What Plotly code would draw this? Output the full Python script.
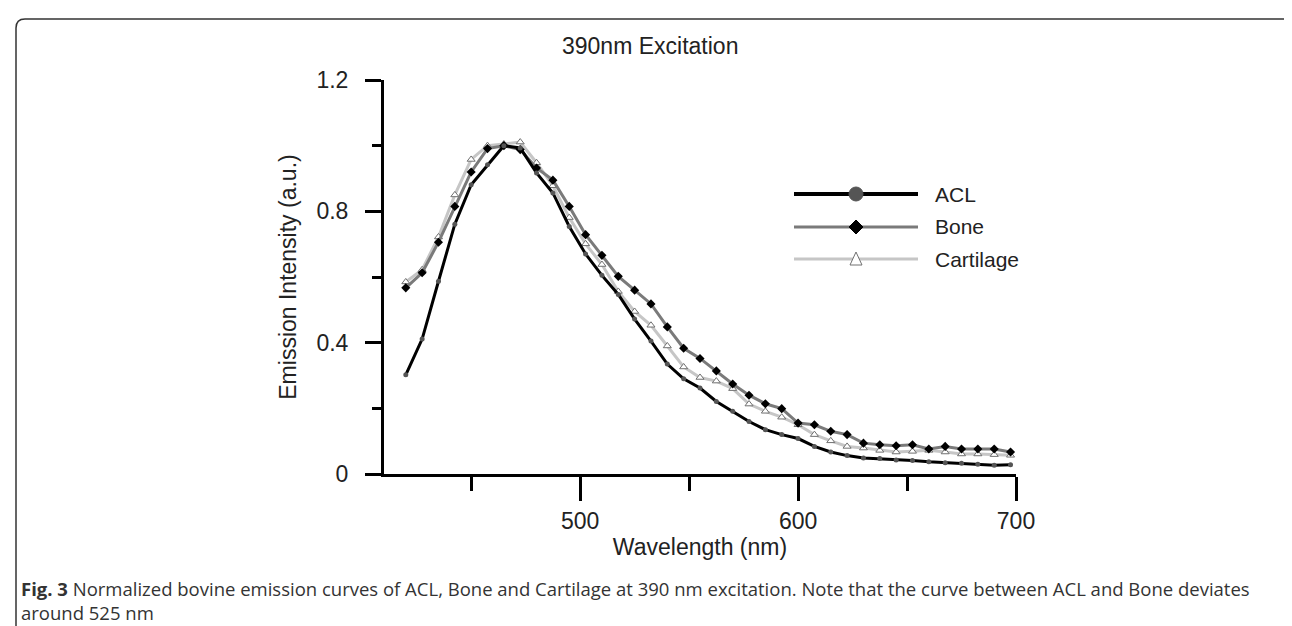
import plotly.graph_objects as go

# emission spectra, marker every 7.5 nm
wavelength = [420, 427.5, 435, 442.5, 450, 457.5, 465, 472.5, 480, 487.5,
              495, 502.5, 510, 517.5, 525, 532.5, 540, 547.5, 555, 562.5,
              570, 577.5, 585, 592.5, 600, 607.5, 615, 622.5, 630, 637.5,
              645, 652.5, 660, 667.5, 675, 682.5, 690, 697.5]

acl = [0.302, 0.411, 0.587, 0.761, 0.881, 0.942, 1.000, 0.993, 0.917, 0.856,
       0.754, 0.670, 0.605, 0.547, 0.472, 0.405, 0.335, 0.290, 0.262, 0.221,
       0.191, 0.160, 0.135, 0.120, 0.108, 0.084, 0.067, 0.056, 0.049, 0.047,
       0.043, 0.041, 0.037, 0.034, 0.033, 0.030, 0.027, 0.028]

bone = [0.567, 0.613, 0.706, 0.815, 0.920, 0.991, 1.000, 0.988, 0.932, 0.895,
        0.815, 0.729, 0.666, 0.602, 0.560, 0.518, 0.448, 0.383, 0.352, 0.314,
        0.274, 0.240, 0.214, 0.199, 0.155, 0.150, 0.130, 0.120, 0.094, 0.089,
        0.086, 0.089, 0.076, 0.084, 0.076, 0.076, 0.076, 0.067]

cartilage = [0.585, 0.622, 0.722, 0.850, 0.958, 1.000, 1.005, 1.011, 0.948, 0.878,
             0.781, 0.701, 0.638, 0.556, 0.495, 0.453, 0.390, 0.326, 0.294, 0.283,
             0.260, 0.213, 0.191, 0.173, 0.150, 0.120, 0.101, 0.084, 0.079, 0.072,
             0.067, 0.069, 0.072, 0.067, 0.061, 0.061, 0.059, 0.057]

names = ["ACL", "Bone", "Cartilage"]

W, H = 1292, 626
L, R, T, B = 376, 1008, 72, 466   # plot box in pixels

FONT = "Liberation Sans, Arial, sans-serif"


def px(x):
    return (x - L) / (R - L)


def py(y):
    return (B - y) / (B - T)


fig = go.Figure()

fig.add_trace(go.Scatter(
    x=wavelength, y=cartilage, name=names[2], mode="lines+markers",
    line=dict(color="#c6c6c6", width=3),
    marker=dict(symbol="triangle-up", size=7, color="white",
                line=dict(color="#707070", width=1))))
fig.add_trace(go.Scatter(
    x=wavelength, y=bone, name=names[1], mode="lines+markers",
    line=dict(color="#7a7a7a", width=3),
    marker=dict(symbol="diamond", size=7, color="black")))
fig.add_trace(go.Scatter(
    x=wavelength, y=acl, name=names[0], mode="lines+markers",
    line=dict(color="black", width=3),
    marker=dict(symbol="circle", size=5, color="#555555")))

# hand-drawn legend with long sample lines like the original
shapes = []
rows = [186, 219, 251]
styles = [("black", 4), ("#7a7a7a", 3), ("#c6c6c6", 3)]
for yy, (col, w) in zip(rows, styles):
    shapes.append(dict(type="line", xref="paper", yref="paper",
                       x0=px(786), x1=px(910), y0=py(yy), y1=py(yy),
                       line=dict(color=col, width=w)))
cx = 848
shapes.append(dict(type="circle", xref="paper", yref="paper",
                   x0=px(cx - 7), x1=px(cx + 7), y0=py(rows[0] - 7), y1=py(rows[0] + 7),
                   fillcolor="#555555", line=dict(color="#555555", width=1)))
d = 7
shapes.append(dict(type="path", xref="paper", yref="paper",
                   path=f"M {px(cx)} {py(rows[1] - d)} L {px(cx + d)} {py(rows[1])} "
                        f"L {px(cx)} {py(rows[1] + d)} L {px(cx - d)} {py(rows[1])} Z",
                   fillcolor="black", line=dict(color="black", width=1)))
t = 6
shapes.append(dict(type="path", xref="paper", yref="paper",
                   path=f"M {px(cx)} {py(rows[2] - t - 1)} L {px(cx + t)} {py(rows[2] + t)} "
                        f"L {px(cx - t)} {py(rows[2] + t)} Z",
                   fillcolor="white", line=dict(color="#707070", width=1)))

# outer frame of the figure panel, open at the bottom
r = 9
fx0, fx1, fy0, fy1 = 8, 1289, 11, 640
shapes.append(dict(
    type="path", xref="paper", yref="paper", layer="above",
    path=(f"M {px(fx0)} {py(fy1)} L {px(fx0)} {py(fy0 + r)} "
          f"Q {px(fx0)} {py(fy0)} {px(fx0 + r)} {py(fy0)} "
          f"L {px(fx1 - r)} {py(fy0)} "
          f"Q {px(fx1)} {py(fy0)} {px(fx1)} {py(fy0 + r)} "
          f"L {px(fx1)} {py(fy1)}"),
    line=dict(color="#333333", width=1.5)))

annotations = []
for yy, name in zip(rows, names):
    annotations.append(dict(xref="paper", yref="paper", x=px(925), y=py(yy),
                            text=name, showarrow=False, xanchor="left", yanchor="middle",
                            font=dict(family=FONT, size=21, color="#222222")))

annotations.append(dict(xref="paper", yref="paper", x=px(642), y=py(38),
                        text="390nm Excitation", showarrow=False,
                        xanchor="center", yanchor="middle",
                        font=dict(family=FONT, size=23, color="#222222")))

annotations.append(dict(
    xref="paper", yref="paper", x=px(11), y=py(566), xanchor="left", yanchor="top",
    align="left", showarrow=False,
    text=("<b>Fig. 3</b> Normalized bovine emission curves of ACL, Bone and Cartilage at 390 nm "
          "excitation. Note that the curve between ACL and Bone deviates<br>around 525 nm"),
    font=dict(family="Open Sans, sans-serif", size=18.5, color="#333333")))

fig.update_layout(
    width=W, height=H,
    margin=dict(l=L, r=W - R, t=T, b=H - B),
    paper_bgcolor="white", plot_bgcolor="white",
    showlegend=False,
    shapes=shapes,
    annotations=annotations,
    font=dict(family=FONT, size=22, color="#222222"),
)

fig.update_xaxes(
    range=[410, 700], showgrid=False, zeroline=False,
    showline=True, linecolor="black", linewidth=3,
    ticks="outside", tickvals=[500, 600, 700], ticklen=24, tickwidth=3, tickcolor="black",
    minor=dict(tickvals=[450, 550, 650], ticks="outside", ticklen=14, tickwidth=3, tickcolor="black"),
    tickfont=dict(family=FONT, size=23, color="#222222"),
    title=dict(text="Wavelength (nm)", font=dict(family=FONT, size=23, color="#222222"), standoff=4),
)
fig.update_yaxes(
    range=[0, 1.2], showgrid=False, zeroline=False,
    showline=True, linecolor="black", linewidth=3,
    ticks="outside", tickvals=[0, 0.4, 0.8, 1.2], ticktext=["0", "0.4", "0.8", "1.2"],
    ticklen=16, tickwidth=3, tickcolor="black",
    minor=dict(tickvals=[0.2, 0.6, 1.0], ticks="outside", ticklen=9, tickwidth=3, tickcolor="black"),
    tickfont=dict(family=FONT, size=23, color="#222222"), ticklabelstandoff=12,
    title=dict(text="Emission Intensity (a.u.)", font=dict(family=FONT, size=23, color="#222222"), standoff=14),
)

fig.write_html("out.html")
